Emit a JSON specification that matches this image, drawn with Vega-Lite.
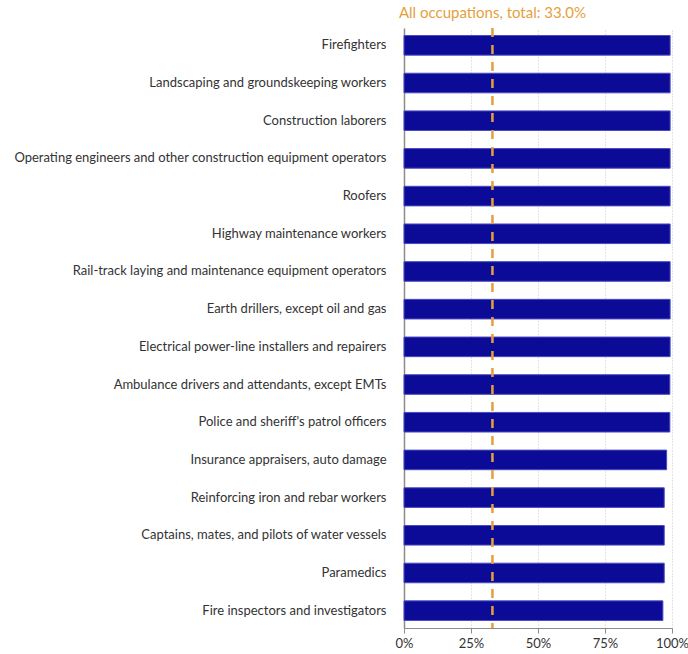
{
  "$schema": "https://vega.github.io/schema/vega-lite/v6.json",
  "autosize": {"type": "none"},
  "width": 268,
  "height": 600,
  "padding": {"left": 404, "top": 28, "right": 16, "bottom": 26},
  "background": "white",
  "config": {
    "font": "Lato",
    "view": {"stroke": null}
  },
  "datasets": {
    "occ": [
      {"occupation": "Firefighters", "pct": 99.3},
      {"occupation": "Landscaping and groundskeeping workers", "pct": 99.3},
      {"occupation": "Construction laborers", "pct": 99.3},
      {"occupation": "Operating engineers and other construction equipment operators", "pct": 99.3},
      {"occupation": "Roofers", "pct": 99.3},
      {"occupation": "Highway maintenance workers", "pct": 99.3},
      {"occupation": "Rail-track laying and maintenance equipment operators", "pct": 99.3},
      {"occupation": "Earth drillers, except oil and gas", "pct": 99.3},
      {"occupation": "Electrical power-line installers and repairers", "pct": 99.3},
      {"occupation": "Ambulance drivers and attendants, except EMTs", "pct": 99.2},
      {"occupation": "Police and sheriff's patrol officers", "pct": 99.2},
      {"occupation": "Insurance appraisers, auto damage", "pct": 98.0},
      {"occupation": "Reinforcing iron and rebar workers", "pct": 97.1},
      {"occupation": "Captains, mates, and pilots of water vessels", "pct": 97.1},
      {"occupation": "Paramedics", "pct": 97.1},
      {"occupation": "Fire inspectors and investigators", "pct": 96.6}
    ],
    "ref": [
      {"value": 33.0, "label": "All occupations, total: 33.0%"}
    ]
  },
  "layer": [
    {
      "data": {"name": "occ"},
      "mark": {"type": "bar", "color": "#0b0b97", "stroke": "#4b4bc0", "strokeWidth": 1},
      "encoding": {
        "y": {
          "field": "occupation",
          "type": "nominal",
          "sort": null,
          "scale": {"paddingInner": 0.48, "paddingOuter": 0.2},
          "axis": {
            "title": null,
            "ticks": false,
            "domainColor": "#8c8c8c",
            "domainWidth": 1.5,
            "labelFontSize": 13,
            "labelColor": "#333333",
            "labelPadding": 18,
            "labelLimit": 500
          }
        },
        "x": {
          "field": "pct",
          "type": "quantitative",
          "scale": {"domain": [0, 100]},
          "axis": {
            "title": null,
            "values": [0, 25, 50, 75, 100],
            "labelExpr": "datum.value + '%'",
            "labelFlush": false,
            "grid": true,
            "gridDash": [1, 2],
            "gridColor": "#c8c8c8",
            "domainColor": "#8c8c8c",
            "tickColor": "#8c8c8c",
            "tickSize": 5,
            "labelFontSize": 13,
            "labelColor": "#333333",
            "labelPadding": 4
          }
        }
      }
    },
    {
      "data": {"name": "ref"},
      "mark": {"type": "rule", "color": "#E59F3C", "strokeWidth": 2.5, "strokeDash": [9, 8]},
      "encoding": {
        "x": {"field": "value", "type": "quantitative"}
      }
    },
    {
      "data": {"name": "ref"},
      "mark": {"type": "text", "color": "#E59F3C", "fontSize": 15, "align": "center", "baseline": "alphabetic", "dy": -10},
      "encoding": {
        "x": {"field": "value", "type": "quantitative"},
        "y": {"value": 0},
        "text": {"field": "label"}
      }
    }
  ]
}
